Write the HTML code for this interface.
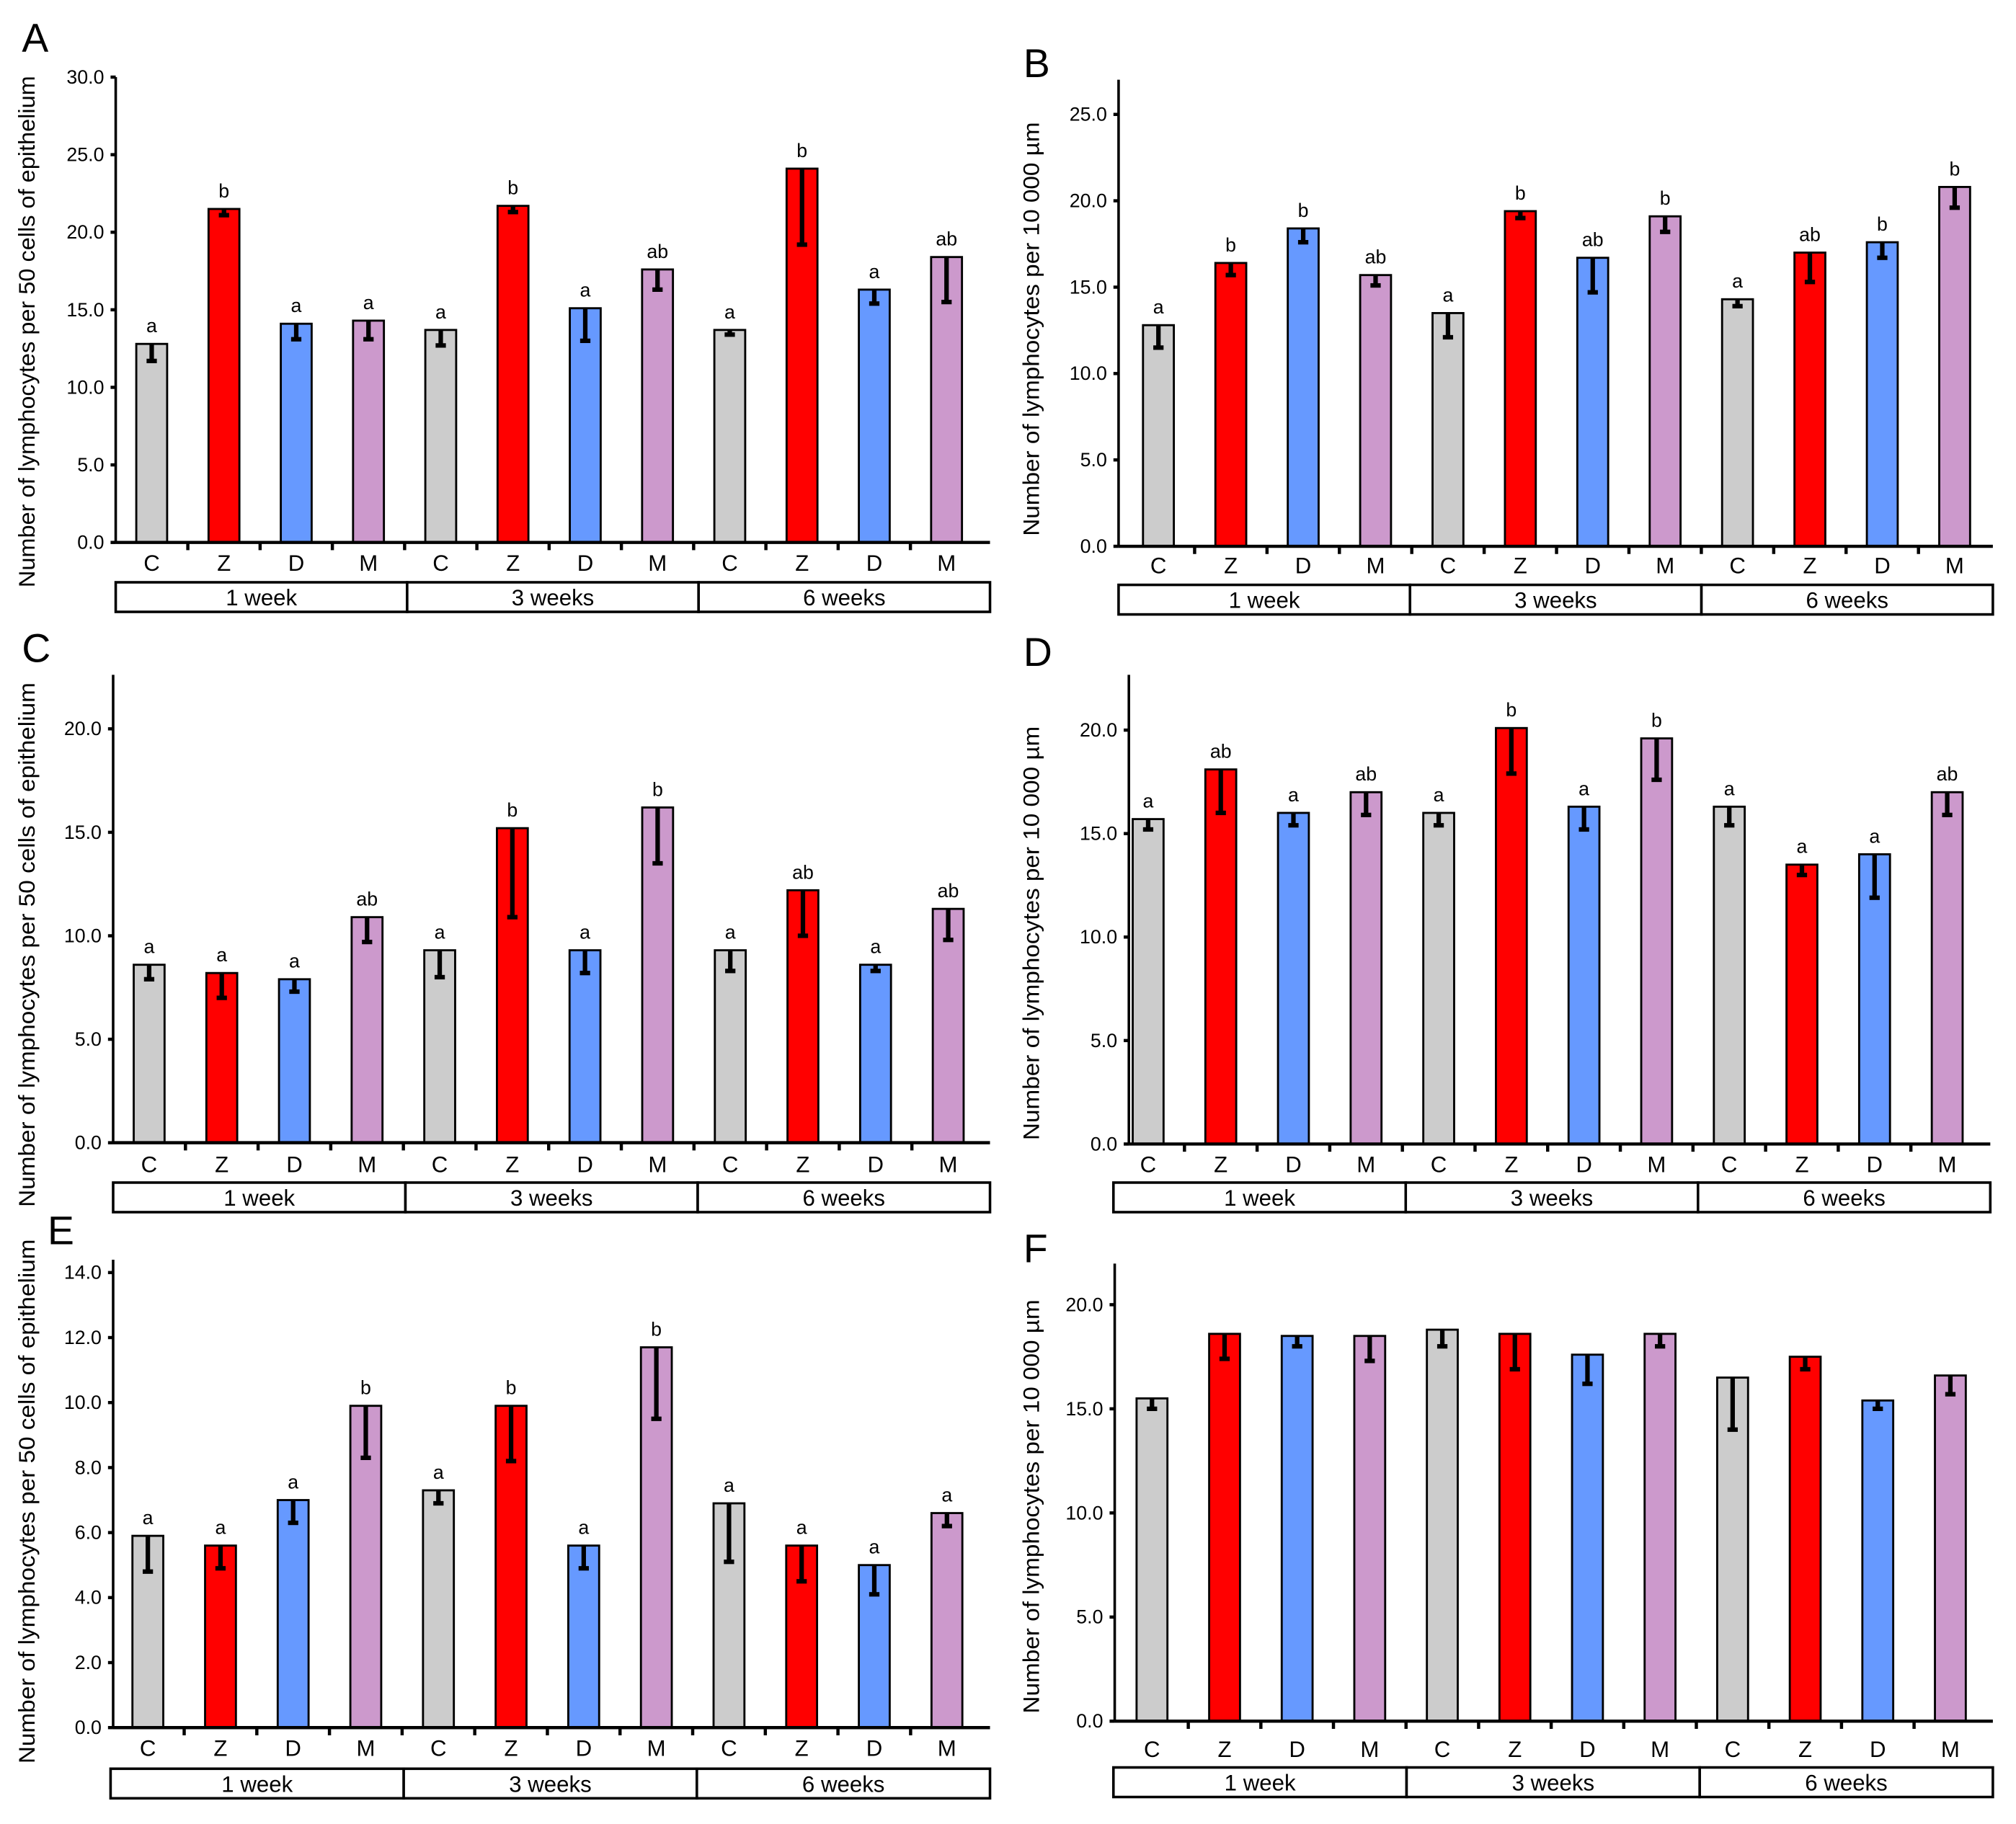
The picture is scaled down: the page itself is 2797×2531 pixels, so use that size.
<!DOCTYPE html>
<html><head><meta charset="utf-8"><style>
html,body{margin:0;padding:0;background:#fff;}
svg{display:block;font-family:"Liberation Sans",sans-serif;}
</style></head><body>
<svg id="fig" width="2797" height="2531" viewBox="0 0 1568 1419" preserveAspectRatio="none" xmlns="http://www.w3.org/2000/svg"></svg>
<script>
const categories = ["C","Z","D","M","C","Z","D","M","C","Z","D","M"];
const groups = ["1 week","3 weeks","6 weeks"];
const colors = ["#cccccc","#ff0000","#6699ff","#cc99cc"];

const valuesA = [12.8,21.5,14.1,14.3,13.7,21.7,15.1,17.6,13.7,24.1,16.3,18.4];
const lowA    = [11.7,21.1,13.1,13.1,12.7,21.3,13.0,16.3,13.4,19.2,15.4,15.5];
const lettersA = ["a","b","a","a","a","b","a","ab","a","b","a","ab"];

const valuesB = [12.8,16.4,18.4,15.7,13.5,19.4,16.7,19.1,14.3,17.0,17.6,20.8];
const lowB    = [11.5,15.7,17.6,15.1,12.1,19.0,14.7,18.2,13.9,15.3,16.7,19.6];
const lettersB = ["a","b","b","ab","a","b","ab","b","a","ab","b","b"];

const valuesC = [8.6,8.2,7.9,10.9,9.3,15.2,9.3,16.2,9.3,12.2,8.6,11.3];
const lowC    = [7.9,7.0,7.3,9.7,8.0,10.9,8.2,13.5,8.3,10.0,8.3,9.8];
const lettersC = ["a","a","a","ab","a","b","a","b","a","ab","a","ab"];

const valuesD = [15.7,18.1,16.0,17.0,16.0,20.1,16.3,19.6,16.3,13.5,14.0,17.0];
const lowD    = [15.2,16.0,15.4,15.9,15.4,17.9,15.2,17.6,15.4,13.0,11.9,15.9];
const lettersD = ["a","ab","a","ab","a","b","a","b","a","a","a","ab"];

const valuesE = [5.9,5.6,7.0,9.9,7.3,9.9,5.6,11.7,6.9,5.6,5.0,6.6];
const lowE    = [4.8,4.9,6.3,8.3,6.9,8.2,4.9,9.5,5.1,4.5,4.1,6.2];
const lettersE = ["a","a","a","b","a","b","a","b","a","a","a","a"];

const valuesF = [15.5,18.6,18.5,18.5,18.8,18.6,17.6,18.6,16.5,17.5,15.4,16.6];
const lowF    = [15.0,17.4,18.0,17.3,18.0,16.9,16.2,18.0,14.0,16.9,15.0,15.7];
const lettersF = [];

const ticksA = [0,5,10,15,20,25,30];
const ticksB = [0,5,10,15,20,25];
const ticksC = [0,5,10,15,20];
const ticksD = [0,5,10,15,20];
const ticksE = [0,2,4,6,8,10,12,14];
const ticksF = [0,5,10,15,20];

const titleEpi = "Number of lymphocytes per 50 cells of epithelium";
const titleUm = "Number of lymphocytes per 10 000 µm";

const panels = [
 {id:"A",vals:valuesA,low:lowA,let:lettersA,ticks:ticksA,ax:90,x0:118,step:56.2,y0:422,yTopVal:30,yTopPx:60,axTop:60,right:770,catY:444,boxY:453,boxL:90,title:titleEpi,tx:27,ty:258,tl:398,lx:17,ly:40},
 {id:"B",vals:valuesB,low:lowB,let:lettersB,ticks:ticksB,ax:870,x0:901,step:56.3,y0:425,yTopVal:25,yTopPx:89,axTop:62,right:1550,catY:446,boxY:455,boxL:870,title:titleUm,tx:808,ty:256,tl:322,lx:796,ly:60},
 {id:"C",vals:valuesC,low:lowC,let:lettersC,ticks:ticksC,ax:88,x0:116,step:56.5,y0:889,yTopVal:20,yTopPx:567,axTop:525,right:770,catY:912,boxY:920,boxL:88,title:titleEpi,tx:27,ty:735,tl:408,lx:17,ly:515},
 {id:"D",vals:valuesD,low:lowD,let:lettersD,ticks:ticksD,ax:878,x0:893,step:56.5,y0:890,yTopVal:20,yTopPx:568,axTop:525,right:1548,catY:912,boxY:920,boxL:866,title:titleUm,tx:808,ty:726,tl:322,lx:796,ly:518},
 {id:"E",vals:valuesE,low:lowE,let:lettersE,ticks:ticksE,ax:88,x0:115,step:56.5,y0:1344,yTopVal:14,yTopPx:990,axTop:980,right:770,catY:1366,boxY:1376,boxL:86,title:titleEpi,tx:27,ty:1168,tl:408,lx:37,ly:968},
 {id:"F",vals:valuesF,low:lowF,let:lettersF,ticks:ticksF,ax:867,x0:896,step:56.45,y0:1339,yTopVal:20,yTopPx:1015,axTop:983,right:1550,catY:1367,boxY:1375,boxL:866,title:titleUm,tx:808,ty:1172,tl:322,lx:796,ly:982}
];

const svg = document.getElementById('fig');
const NS = "http://www.w3.org/2000/svg";
function mk(tag, attrs, parent){
  const e = document.createElementNS(NS, tag);
  for (const k in attrs) e.setAttribute(k, attrs[k]);
  parent.appendChild(e);
  return e;
}

panels.forEach(p => {
  const g = mk('g', {}, svg);
  
  
  const yScale = v => p.y0 - (v / p.yTopVal) * (p.y0 - p.yTopPx);
  const xScale = i => p.x0 + i * p.step;

  const letter = mk('text', {x:p.lx, y:p.ly, 'font-size':31}, g);
  letter.textContent = p.id;
  
  

  const t = mk('text', {x:0, y:0, 'font-size':17.5, 'text-anchor':'middle', textLength:p.tl, lengthAdjust:'spacingAndGlyphs', transform:`translate(${p.tx},${p.ty}) rotate(-90)`}, g);
  t.textContent = p.title;
  
  

  p.vals.forEach((v, i) => {
    const cx = xScale(i), w = 24, top = yScale(v);
    const b = mk('rect', {x:cx - w/2, y:top, width:w, height:p.y0 - top, fill:colors[i % 4], stroke:'#000', 'stroke-width':1.6}, g);
    
    
    const lo = yScale(p.low[i]);
    const eb = mk('line', {x1:cx, x2:cx, y1:top, y2:lo, stroke:'#000', 'stroke-width':3.5}, g);
    
    
    const cap = mk('line', {x1:cx-4, x2:cx+4, y1:lo, y2:lo, stroke:'#000', 'stroke-width':3.5}, g);
    
    
    if (p.let[i]) {
      const lt = mk('text', {x:cx, y:top - 9, 'font-size':15, 'text-anchor':'middle'}, g);
      lt.textContent = p.let[i];
      
      
    }
    const cl = mk('text', {x:cx, y:p.catY, 'font-size':17.5, 'text-anchor':'middle'}, g);
    cl.textContent = categories[i];
    
    
    if (i > 0) {
      const tk = mk('line', {x1:cx - p.step/2, x2:cx - p.step/2, y1:p.y0, y2:p.y0 + 6, stroke:'#000', 'stroke-width':2.5}, g);
      
      
    }
  });

  const ya = mk('line', {x1:p.ax, x2:p.ax, y1:p.axTop, y2:p.y0, stroke:'#000', 'stroke-width':2}, g);
  
  
  const xa = mk('line', {x1:p.ax, x2:p.right, y1:p.y0, y2:p.y0, stroke:'#000', 'stroke-width':2.5}, g);
  
  

  p.ticks.forEach(v => {
    const y = yScale(v);
    const tk = mk('line', {x1:p.ax - 4, x2:p.ax, y1:y, y2:y, stroke:'#000', 'stroke-width':2.5}, g);
    
    
    const tl = mk('text', {x:p.ax - 9, y:y + 5, 'font-size':15, 'text-anchor':'end'}, g);
    tl.textContent = v.toFixed(1);
    
    
  });

  const bw = (p.right - p.boxL) / 3;
  groups.forEach((gr, j) => {
    const r = mk('rect', {x:p.boxL + j*bw, y:p.boxY, width:bw, height:23, fill:'#fff', stroke:'#000', 'stroke-width':2}, g);
    
    
    const gt = mk('text', {x:p.boxL + j*bw + bw/2, y:p.boxY + 18, 'font-size':17.5, 'text-anchor':'middle'}, g);
    gt.textContent = gr;
    
    
  });
});
</script>
</body></html>
